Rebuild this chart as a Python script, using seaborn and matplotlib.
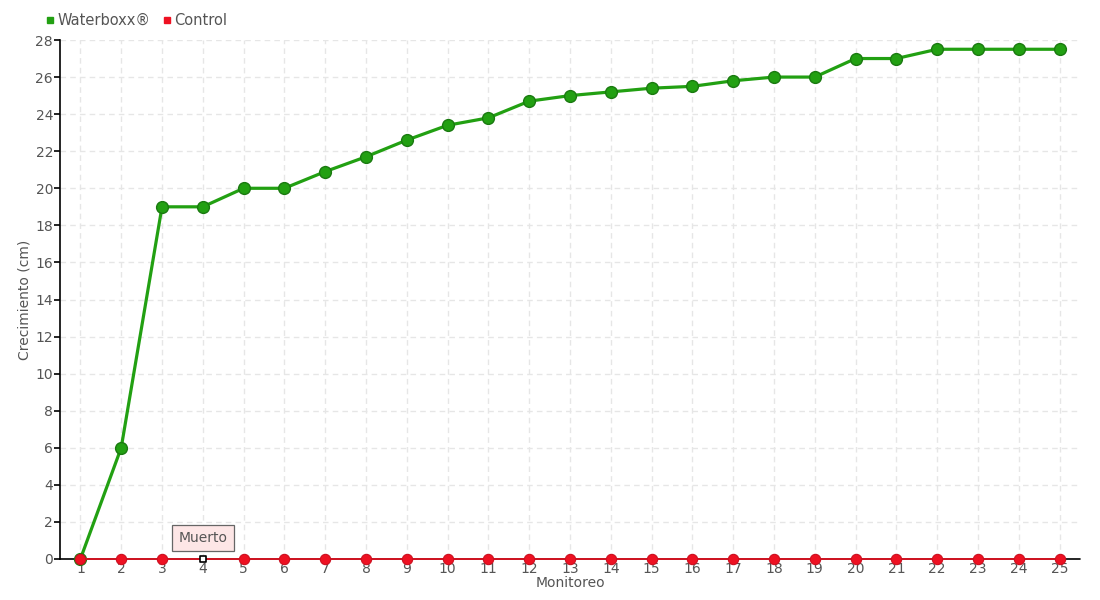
import numpy as np
import pandas as pd
import matplotlib
matplotlib.use("Agg")
import matplotlib.pyplot as plt
import seaborn as sns
from matplotlib.lines import Line2D

# datos
monitoreo = list(range(1, 26))
waterboxx = [0, 6, 19, 19, 20, 20, 20.9, 21.7, 22.6, 23.4, 23.8, 24.7, 25.0, 25.2,
             25.4, 25.5, 25.8, 26.0, 26.0, 27.0, 27.0, 27.5, 27.5, 27.5, 27.5]
control = [0] * 25
muerto_idx = 3  # monitoreo 4
y_ticks = list(range(0, 29, 2))

verde = "#22a012"
verde_borde = "#1a7a10"
rojo = "#ee1122"
gris_txt = "#555555"

sns.set_style("white")
plt.rcParams['font.family'] = ['DejaVu Sans']

fig = plt.figure(figsize=(11, 6), dpi=100)
ax = fig.add_axes([60 / 1100, 1 - 559 / 600, 1020 / 1100, 519 / 600])

df_w = pd.DataFrame({"Monitoreo": monitoreo, "Crecimiento": waterboxx})
df_c = pd.DataFrame({"Monitoreo": monitoreo, "Crecimiento": control})

sns.lineplot(data=df_w, x="Monitoreo", y="Crecimiento", ax=ax, color=verde, lw=2.3,
             marker="o", markersize=8.5, markerfacecolor=verde, markeredgecolor=verde_borde,
             markeredgewidth=1, zorder=4, clip_on=False)

ax.axhline(0, color="black", lw=1.2, zorder=3, clip_on=False)

# control: marcadores rojos, excepto el "muerto"
mask = [i != muerto_idx for i in range(len(monitoreo))]
sns.lineplot(data=df_c, x="Monitoreo", y="Crecimiento", ax=ax, color=rojo, lw=1.2,
             zorder=5, clip_on=False)
ax.scatter(df_c["Monitoreo"][mask], df_c["Crecimiento"][mask], s=55, color=rojo,
           edgecolor="#cc1020", lw=0.8, zorder=6, clip_on=False)
ax.scatter([monitoreo[muerto_idx]], [control[muerto_idx]], s=22, marker="s",
           facecolor="white", edgecolor="black", lw=1.2, zorder=7, clip_on=False)
ax.annotate("Muerto", xy=(monitoreo[muerto_idx], control[muerto_idx]), xytext=(0, 15),
            textcoords="offset points", ha="center", va="center", fontsize=10, color=gris_txt,
            bbox=dict(boxstyle="square,pad=0.45", fc="#fde6e6", ec="#666666", lw=0.9),
            zorder=8)

ax.set_xlim(0.5, 25.5)
ax.set_ylim(0, 28)
ax.set_xticks(monitoreo)
ax.set_yticks(y_ticks)
ax.grid(True, color="#e6e6e6", ls=(0, (4, 3)), lw=1)
for s in ["top", "right", "bottom"]:
    ax.spines[s].set_visible(False)
ax.spines["left"].set_color("black")
ax.spines["left"].set_linewidth(1.2)
ax.tick_params(axis="y", direction="out", length=4, width=1.2, color="black",
               labelsize=10, labelcolor=gris_txt, pad=1, left=True)
ax.tick_params(axis="x", length=0, labelsize=10, labelcolor=gris_txt, pad=2)
ax.set_xlabel("Monitoreo", fontsize=10, color=gris_txt, labelpad=0)
ax.set_ylabel("Crecimiento (cm)", fontsize=10, color=gris_txt, labelpad=3)

handles = [Line2D([], [], ls="", marker="s", ms=5, color=verde),
           Line2D([], [], ls="", marker="s", ms=5, color=rojo)]
fig.legend(handles, ["Waterboxx®", "Control"], loc="upper left",
           bbox_to_anchor=(46 / 1100, 1 - 13 / 600), ncol=2, frameon=False,
           fontsize=10.5, labelcolor=gris_txt, handlelength=0.6, handletextpad=0.2,
           columnspacing=0.8, borderaxespad=0, borderpad=0)

fig.savefig("out.png", dpi=100)
